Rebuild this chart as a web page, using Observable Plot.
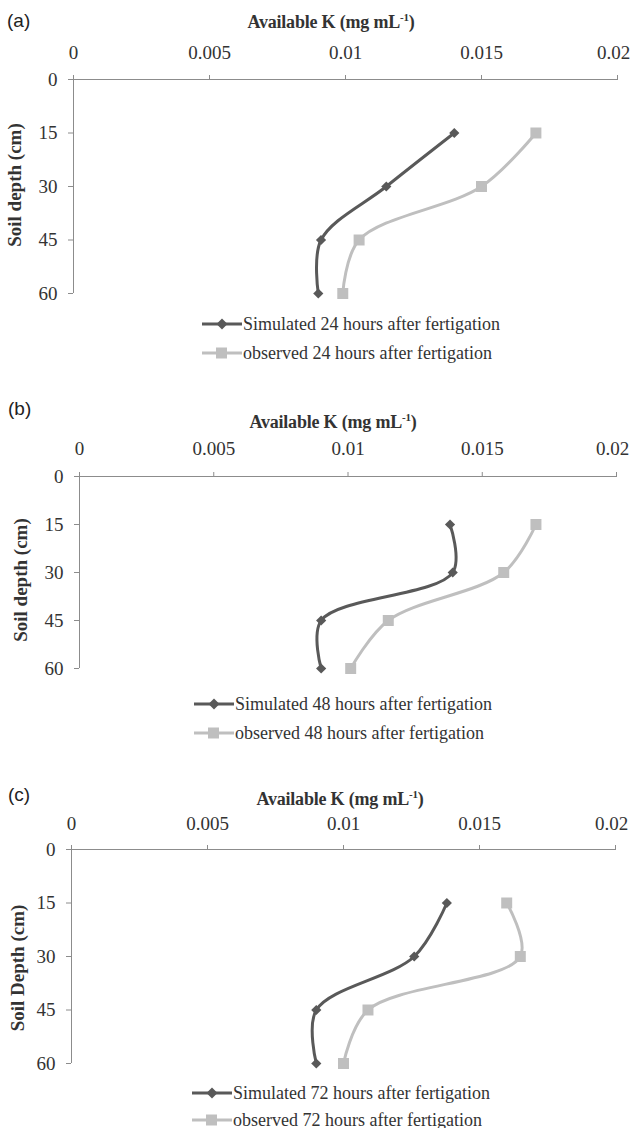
<!DOCTYPE html>
<html>
<head>
<meta charset="utf-8">
<script src="https://cdn.jsdelivr.net/npm/d3@7"></script>
<script src="https://cdn.jsdelivr.net/npm/@observablehq/plot@0.6"></script>
<style>
  html, body { margin: 0; padding: 0; background: #fff; }
  #root { position: relative; width: 631px; height: 1128px; overflow: hidden; }
  #root svg text { font-family: "Liberation Serif", "Times New Roman", serif; }
  .abs { position: absolute; white-space: nowrap; }
  .tag { font-family: "Liberation Sans", Arial, sans-serif; font-size: 19px; color: #222; }
  .title { font-family: "Liberation Serif", "Times New Roman", serif; font-weight: bold; font-size: 18px; color: #333; transform: translate(-50%, -50%); letter-spacing: -0.2px; }
  .title sup { font-size: 11px; vertical-align: 7px; line-height: 0; }
  .ylab { font-family: "Liberation Serif", "Times New Roman", serif; font-weight: bold; font-size: 19px; color: #333; transform: translate(-50%, -50%) rotate(-90deg); }
  .leg { font-family: "Liberation Serif", "Times New Roman", serif; font-size: 18px; color: #333; display: flex; align-items: center; transform: translateY(-50%); }
  .leg svg { display: block; margin-right: 1px; }
</style>
</head>
<body>
<div id="root"></div>
<script>
// ---- data ----
const depths = [15, 30, 45, 60];
const sim24 = [0.0140, 0.0115, 0.0091, 0.0090];
const obs24 = [0.0170, 0.0150, 0.0105, 0.0099];
const sim48 = [0.0138, 0.0139, 0.0090, 0.0090];
const obs48 = [0.0170, 0.0158, 0.0115, 0.0101];
const sim72 = [0.0138, 0.0126, 0.0090, 0.0090];
const obs72 = [0.0160, 0.0165, 0.0109, 0.0100];
const xTicks = [0, 0.005, 0.01, 0.015, 0.02];
const xTickLabels = ["0", "0.005", "0.01", "0.015", "0.02"];
const yTicks = [0, 15, 30, 45, 60];
const panelTags = ["(a)", "(b)", "(c)"];
const yTitles = ["Soil depth (cm)", "Soil depth (cm)", "Soil Depth (cm)"];
const simNames = ["Simulated 24 hours after fertigation", "Simulated 48 hours after fertigation", "Simulated 72 hours after fertigation"];
const obsNames = ["observed 24 hours after fertigation", "observed 48 hours after fertigation", "observed 72 hours after fertigation"];
const simSeries = [sim24, sim48, sim72];
const obsSeries = [obs24, obs48, obs72];

// ---- layout ----
const SIM_COLOR = "#595959";
const OBS_COLOR = "#bfbfbf";
const AXIS_COLOR = "#8c8c8c";
const TEXT_COLOR = "#333";
const layout = [
  {axisY: 79,  bottomY: 293,  left: 73, right: 617, pad: 15.5, tag: [7, 21],  title: [331, 22],  ylab: [15, 185], leg: [202, 324, 353]},
  {axisY: 476, bottomY: 668,  left: 79, right: 616, pad: 16.5, tag: [8, 409], title: [333, 422], ylab: [21, 580], leg: [194, 704, 733]},
  {axisY: 849, bottomY: 1063, left: 71, right: 615, pad: 14.5, tag: [8, 795], title: [340, 799], ylab: [18, 968], leg: [192, 1093, 1120]}
];

const root = document.getElementById("root");
const MT = 50, MB = 14;
const lastTick = xTicks[xTicks.length - 1];

function addDiv(cls, x, y, html) {
  const d = document.createElement("div");
  d.className = "abs " + cls;
  d.style.left = x + "px";
  d.style.top = y + "px";
  d.innerHTML = html;
  root.appendChild(d);
  return d;
}

function swatch(color, shape) {
  const marker = shape === "square"
    ? `<rect x="14" y="2" width="11" height="11" fill="${color}"/>`
    : `<path d="M20 2 L25.5 7.5 L20 13 L14.5 7.5 Z" fill="${color}"/>`;
  return `<svg width="40" height="15"><line x1="0" x2="40" y1="7.5" y2="7.5" stroke="${color}" stroke-width="3"/>${marker}</svg>`;
}

layout.forEach((L, i) => {
  const sim = depths.map((d, k) => ({depth: d, k: simSeries[i][k]}));
  const obs = depths.map((d, k) => ({depth: d, k: obsSeries[i][k]}));
  const chart = Plot.plot({
    width: 631,
    height: MT + (L.bottomY - L.axisY) + MB,
    marginTop: MT,
    marginBottom: MB,
    marginLeft: L.left,
    marginRight: 631 - L.right,
    style: {fontSize: "19px", background: "transparent", overflow: "visible"},
    x: {domain: [0, 0.02], axis: null},
    y: {domain: [0, 60], reverse: true, axis: null},
    marks: [
      Plot.axisX({anchor: "top", ticks: xTicks, tickFormat: (d) => d === lastTick ? "" : xTickLabels[xTicks.indexOf(d)], tickSize: 5, tickPadding: L.pad, label: null, stroke: AXIS_COLOR, fill: TEXT_COLOR}),
      Plot.axisX({anchor: "top", ticks: [lastTick], tickFormat: (d) => xTickLabels[xTicks.indexOf(d)], tickSize: 0, tickPadding: L.pad + 5, dx: -4, label: null, fill: TEXT_COLOR}),
      Plot.axisY({anchor: "left", ticks: yTicks, tickFormat: (d) => String(d), tickSize: 5, tickPadding: 11, label: null, stroke: AXIS_COLOR, fill: TEXT_COLOR}),
      Plot.ruleY([0], {stroke: AXIS_COLOR}),
      Plot.ruleX([0], {stroke: AXIS_COLOR}),
      Plot.line(sim, {x: "k", y: "depth", curve: "catmull-rom", stroke: SIM_COLOR, strokeWidth: 3}),
      Plot.dot(sim, {x: "k", y: "depth", symbol: "diamond2", r: 4.6, fill: SIM_COLOR, stroke: "none"}),
      Plot.line(obs, {x: "k", y: "depth", curve: "catmull-rom", stroke: OBS_COLOR, strokeWidth: 3}),
      Plot.dot(obs, {x: "k", y: "depth", symbol: "square", r: 6.2, fill: OBS_COLOR, stroke: "none"})
    ]
  });
  const wrap = document.createElement("div");
  wrap.className = "abs";
  wrap.style.left = "0px";
  wrap.style.top = (L.axisY - MT) + "px";
  wrap.appendChild(chart);
  root.appendChild(wrap);

  addDiv("tag", L.tag[0], L.tag[1] - 11, panelTags[i]);
  addDiv("title", L.title[0], L.title[1], "Available K (mg mL<sup>-1</sup>)");
  addDiv("ylab", L.ylab[0], L.ylab[1], yTitles[i]);
  addDiv("leg", L.leg[0], L.leg[1], swatch(SIM_COLOR, "diamond") + `<span>${simNames[i]}</span>`);
  addDiv("leg", L.leg[0], L.leg[2], swatch(OBS_COLOR, "square") + `<span>${obsNames[i]}</span>`);
});
</script>
</body>
</html>
